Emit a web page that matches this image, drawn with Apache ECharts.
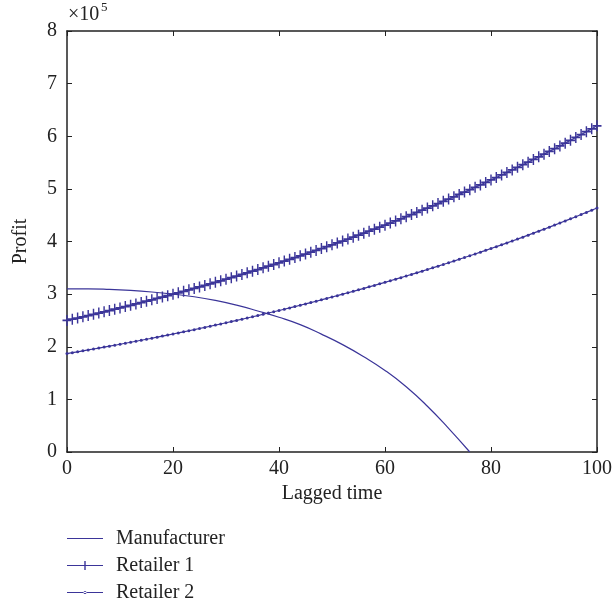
<!DOCTYPE html>
<html>
<head>
<meta charset="utf-8">
<script src="https://cdn.jsdelivr.net/npm/echarts@6/dist/echarts.min.js"></script>
<style>
html,body{margin:0;padding:0;background:#fff;}
#chart{width:615px;height:605px;}
</style>
</head>
<body>
<div id="chart"></div>
<script>
// Values in units of 1e5
var manufacturerTime = [0,4,8,12,16,20,24,28,32,36,40,44,48,52,56,60,64,68,72,76];
var manufacturerProfit = [3.10,3.10,3.09,3.07,3.04,3.00,2.95,2.88,2.79,2.68,2.56,2.42,2.24,2.04,1.81,1.55,1.24,0.87,0.45,0.00];

// Retailer series: one value per lagged time step 0..100
var retailer1Profit = [
2.500,2.523,2.546,2.569,2.593,2.616,2.640,2.664,2.688,2.713,
2.738,2.763,2.788,2.814,2.839,2.865,2.891,2.918,2.944,2.971,
2.998,3.025,3.053,3.081,3.109,3.137,3.166,3.195,3.224,3.253,
3.283,3.313,3.343,3.374,3.405,3.436,3.467,3.499,3.530,3.563,
3.595,3.628,3.661,3.694,3.728,3.762,3.796,3.831,3.866,3.901,
3.937,3.973,4.009,4.046,4.083,4.120,4.158,4.195,4.234,4.272,
4.311,4.350,4.390,4.430,4.471,4.511,4.553,4.594,4.636,4.678,
4.720,4.763,4.807,4.850,4.895,4.939,4.984,5.030,5.076,5.122,
5.169,5.216,5.264,5.312,5.360,5.409,5.459,5.508,5.559,5.609,
5.660,5.712,5.764,5.816,5.869,5.923,5.977,6.032,6.087,6.142,
6.198];
var retailer2Profit = [
1.870,1.887,1.904,1.922,1.939,1.957,1.975,1.993,2.011,2.029,
2.048,2.066,2.085,2.104,2.124,2.143,2.162,2.182,2.202,2.222,
2.242,2.263,2.284,2.304,2.325,2.347,2.368,2.390,2.411,2.433,
2.456,2.478,2.501,2.523,2.546,2.570,2.593,2.617,2.641,2.665,
2.689,2.713,2.738,2.763,2.788,2.814,2.840,2.865,2.892,2.918,
2.945,2.971,2.999,3.026,3.053,3.081,3.109,3.138,3.166,3.195,
3.224,3.254,3.284,3.313,3.344,3.374,3.405,3.436,3.467,3.499,
3.531,3.563,3.596,3.628,3.662,3.695,3.729,3.763,3.797,3.832,
3.867,3.902,3.937,3.973,4.010,4.046,4.083,4.120,4.158,4.196,
4.234,4.273,4.312,4.351,4.391,4.431,4.471,4.512,4.553,4.595,
4.636];

var xTicks = {min:0, max:100, interval:20};
var yTicks = {min:0, max:8, interval:1};
var seriesNames = ['Manufacturer','Retailer 1','Retailer 2'];

var col = '#3b3599';
var axisCol = '#222';
var fontFam = '"Liberation Serif","DejaVu Serif",serif';
var fs = 20;

function pairs(xs, ys){ return ys.map(function(y,i){ return [xs[i], y]; }); }
function indexPairs(ys){ return ys.map(function(y,i){ return [i, y]; }); }

var plusPath = 'path://M4.2,0h1.6v4.2h4.2v1.6h-4.2v4.2h-1.6v-4.2h-4.2v-1.6h4.2z';
// legend icons (36 x 12 box; corner specks fix the bounding box)
var box = 'M0,0h0.01v0.01h-0.01z M35.99,11.99h0.01v0.01h-0.01z ';
var iconLine = 'path://' + box + 'M0,5.4h36v1.2h-36z';
var iconPlus = 'path://' + box + 'M0,5.4h36v1.2h-36z M17.3,1.5h1.4v9h-1.4z';
var iconDot = 'path://' + box + 'M0,5.4h36v1.2h-36z M16.5,6a1.5,1.5 0 1,0 3,0a1.5,1.5 0 1,0 -3,0z';

var chart = echarts.init(document.getElementById('chart'), null, {renderer:'canvas'});
chart.setOption({
  animation:false,
  backgroundColor:'#fff',
  grid:{left:67, right:14, top:31, bottom:153, containLabel:false},
  xAxis:[{
    type:'value', min:xTicks.min, max:xTicks.max, interval:xTicks.interval,
    position:'bottom',
    name:'Lagged time', nameLocation:'middle', nameGap:32,
    nameTextStyle:{fontFamily:fontFam, fontSize:fs, color:axisCol},
    axisLine:{onZero:false, lineStyle:{color:axisCol, width:1.5}},
    axisTick:{inside:true, length:5, lineStyle:{color:axisCol}},
    axisLabel:{fontFamily:fontFam, fontSize:fs, color:axisCol, margin:7},
    splitLine:{show:false}
  },{
    type:'value', min:xTicks.min, max:xTicks.max, interval:xTicks.interval,
    position:'top',
    axisLine:{onZero:false, lineStyle:{color:axisCol, width:1.5}},
    axisTick:{inside:true, length:5, lineStyle:{color:axisCol}},
    axisLabel:{show:false}, splitLine:{show:false}
  }],
  yAxis:[{
    type:'value', min:yTicks.min, max:yTicks.max, interval:yTicks.interval,
    position:'left',
    name:'Profit', nameLocation:'middle', nameGap:36, nameRotate:90,
    nameTextStyle:{fontFamily:fontFam, fontSize:fs, color:axisCol},
    axisLine:{onZero:false, lineStyle:{color:axisCol, width:1.5}},
    axisTick:{inside:true, length:5, lineStyle:{color:axisCol}},
    axisLabel:{fontFamily:fontFam, fontSize:fs, color:axisCol, margin:10},
    splitLine:{show:false}
  },{
    type:'value', min:yTicks.min, max:yTicks.max, interval:yTicks.interval,
    position:'right',
    axisLine:{onZero:false, lineStyle:{color:axisCol, width:1.5}},
    axisTick:{inside:true, length:5, lineStyle:{color:axisCol}},
    axisLabel:{show:false}, splitLine:{show:false}
  }],
  legend:{
    orient:'vertical', left:67, top:528, padding:0,
    itemWidth:36, itemHeight:12, itemGap:6,
    textStyle:{fontFamily:fontFam, fontSize:fs, lineHeight:21, color:axisCol, padding:[0,0,0,8]},
    data:[
      {name:seriesNames[0], icon:iconLine},
      {name:seriesNames[1], icon:iconPlus},
      {name:seriesNames[2], icon:iconDot}
    ]
  },
  graphic:[
    {type:'text', left:68, top:5, style:{text:'×10', fontFamily:fontFam, fontSize:fs, fill:axisCol}},
    {type:'text', left:101, top:1, style:{text:'5', fontFamily:fontFam, fontSize:13, fill:axisCol}}
  ],
  series:[{
    name:seriesNames[0], type:'line', xAxisIndex:0, yAxisIndex:0,
    data:pairs(manufacturerTime, manufacturerProfit),
    smooth:true, showSymbol:false, symbol:'none',
    lineStyle:{color:col, width:1.2}, itemStyle:{color:col}
  },{
    name:seriesNames[1], type:'line', xAxisIndex:0, yAxisIndex:0,
    data:indexPairs(retailer1Profit),
    symbol:plusPath, symbolSize:[9,11], showAllSymbol:true,
    lineStyle:{color:col, width:1.2}, itemStyle:{color:col}
  },{
    name:seriesNames[2], type:'line', xAxisIndex:0, yAxisIndex:0,
    data:indexPairs(retailer2Profit),
    symbol:'circle', symbolSize:3, showAllSymbol:true,
    lineStyle:{color:col, width:1.2}, itemStyle:{color:col}
  }]
});
</script>
</body>
</html>
